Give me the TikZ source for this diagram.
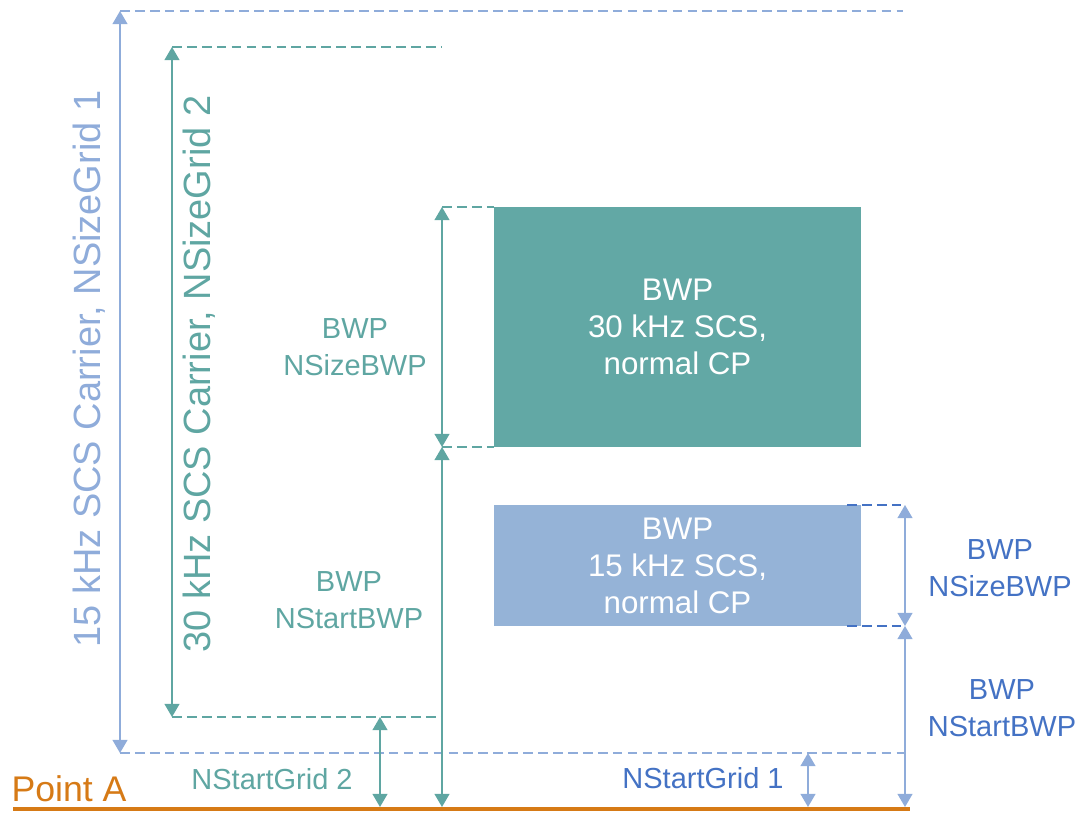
\documentclass[tikz,border=0pt]{standalone}
\usepackage{fontspec}
\setmainfont{Liberation Sans}
\usetikzlibrary{arrows.meta}
\definecolor{xanh}{RGB}{143,172,218}
\definecolor{xanhhop}{RGB}{149,179,215}
\definecolor{xanhdam}{RGB}{68,114,196}
\definecolor{ngoc}{RGB}{95,166,162}
\definecolor{ngochop}{RGB}{98,168,165}
\definecolor{cam}{RGB}{214,122,22}
\tikzset{
  nhan/.style={align=center, font=\fontsize{16.5}{21}\selectfont},
  hop/.style={minimum width=7.34cm, align=center, text=white, inner sep=0pt, font=\fontsize{17.8}{21}\selectfont},
  doc/.style={rotate=90, font=\fontsize{21.6}{26}\selectfont},
  gach/.style={dash pattern=on 5.5pt off 3pt, line width=0.8pt},
  mui/.style={<->, line width=0.9pt}
}
\begin{document}
\begin{tikzpicture}[x=0.02cm, y=-0.02cm, line join=round, >={Triangle[width=8.5pt,length=7.5pt]}]
	\useasboundingbox (0,0) rectangle (1081,814);
	% hai khoi BWP
	\node[hop, fill=ngochop, minimum height=4.8cm] (H30) at (677.5,327) {BWP\\30 kHz SCS,\\normal CP};
	\node[hop, fill=xanhhop, minimum height=2.42cm] (H15) at (677.5,565.5) {BWP\\15 kHz SCS,\\normal CP};
	% cac diem
	\coordinate (O1) at (13,809); \coordinate (O2) at (910,809); % Point A
	\coordinate (A1) at (120,11); \coordinate (B1) at (120,753);
	\coordinate (C1) at (903,11); \coordinate (D1) at (905,753);
	\coordinate (A2) at (172,47); \coordinate (B2) at (172,717);
	\coordinate (C2) at (442,47); \coordinate (D2) at (442,717);
	\coordinate (G2) at (380,717); \coordinate (G2d) at (380,807);
	\coordinate (S1) at (442,207); \coordinate (S2) at (442,447); \coordinate (S3) at (442,807);
	\coordinate (R0) at (847,505); \coordinate (R1) at (905,505);
	\coordinate (R2) at (905,626); \coordinate (R3) at (905,807); \coordinate (Rx) at (847,626);
	\coordinate (G1) at (808,753); \coordinate (G1d) at (808,807);
	% song mang 15 kHz
	\draw[gach, xanh] (A1)--(C1) (B1)--(D1);
	\draw[mui, xanh] (A1)--(B1);
	% song mang 30 kHz
	\draw[gach, ngoc] (A2)--(C2) (B2)--(D2);
	\draw[mui, ngoc] (A2)--(B2);
	\draw[mui, ngoc] (G2)--(G2d);
	\draw[gach, ngoc] (S1)--(S1 -| H30.west) (S2)--(S2 -| H30.west);
	\draw[mui, ngoc] (S1)--(S2);
	\draw[mui, ngoc] (S2)--(S3);
	% BWP 15 kHz
	\draw[gach, xanhdam] (R0)--(R1) (Rx)--(R2);
	\draw[mui, xanh] (R1)--(R2);
	\draw[mui, xanh] (R2)--(R3);
	\draw[mui, xanh] (G1)--(G1d);
	\draw[cam, line width=2.3pt] (O1)--(O2);
	% nhan
	\node[doc, text=xanh] (N1) at (89,369) {15 kHz SCS Carrier, NSizeGrid 1};
	\node[doc, text=ngoc] (N2) at (199,374) {30 kHz SCS Carrier, NSizeGrid 2};
	\node[nhan, text=ngoc] (L1) at (355,347) {BWP\\NSizeBWP};
	\node[nhan, text=ngoc] (L2) at (349,600) {BWP\\NStartBWP};
	\node[nhan, text=ngoc] (L3) at (272,779) {NStartGrid 2};
	\node[nhan, text=xanhdam] (L4) at (1000,568) {BWP\\NSizeBWP};
	\node[nhan, text=xanhdam] (L5) at (1002,708) {BWP\\NStartBWP};
	\node[nhan, text=xanhdam] (L6) at (703,778) {NStartGrid 1};
	\node[text=cam, font=\fontsize{20.3}{24}\selectfont] (PA) at (69,789) {Point A};
\end{tikzpicture}
\end{document}
